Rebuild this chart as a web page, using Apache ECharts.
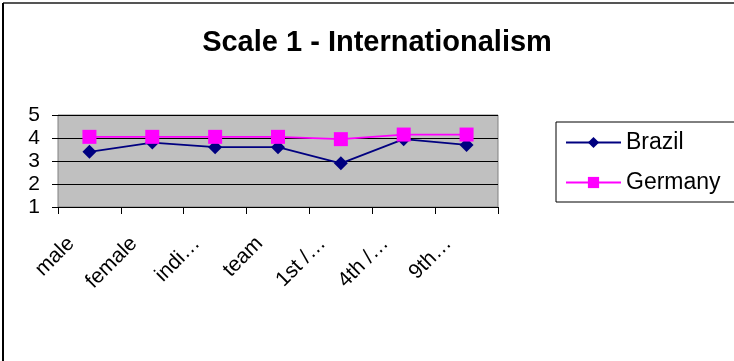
<!DOCTYPE html>
<html>
<head>
<meta charset="utf-8">
<script src="https://cdn.jsdelivr.net/npm/echarts@6/dist/echarts.min.js"></script>
<style>
  html, body { margin: 0; padding: 0; background: #fff; }
  #chart { width: 734px; height: 361px; }
</style>
</head>
<body>
<div id="chart"></div>
<script>
// Category labels along the x axis (shortened as in the original sheet)
const categories = ['male', 'female', 'indi…', 'team', '1st /…', '4th /…', '9th…'];
// Mean scale scores per group
const brazil = [3.4, 3.8, 3.6, 3.6, 2.9, 3.95, 3.7];
const germany = [4.05, 4.05, 4.05, 4.05, 3.95, 4.15, 4.15];
const yTicks = [1, 2, 3, 4, 5];

const FONT = '"Liberation Sans", Arial, sans-serif';
const chart = echarts.init(document.getElementById('chart'));

chart.setOption({
  animation: false,
  backgroundColor: '#ffffff',
  title: {
    text: 'Scale 1 - Internationalism',
    left: 372,
    textAlign: 'center',
    top: 23,
    textStyle: { fontFamily: FONT, fontSize: 29, fontWeight: 'bold', color: '#000' }
  },
  legend: {
    orient: 'vertical',
    left: 556,
    top: 122,
    width: 176,
    padding: [9, 30, 8, 9],
    itemWidth: 55,
    itemHeight: 14,
    itemGap: 17,
    borderColor: '#000',
    borderWidth: 1,
    textStyle: { fontFamily: FONT, fontSize: 23, color: '#000' },
    data: ['Brazil', 'Germany']
  },
  grid: {
    left: 58, right: 236, top: 115, bottom: 154,
    show: true,
    backgroundColor: '#c0c0c0',
    borderColor: '#808080',
    borderWidth: 1
  },
  xAxis: {
    type: 'category',
    data: categories,
    boundaryGap: true,
    axisLine: { lineStyle: { color: '#000', width: 1 } },
    axisTick: { show: true, length: 7, lineStyle: { color: '#000' } },
    axisLabel: {
      rotate: 45,
      interval: 0,
      margin: 15,
      padding: [0, 26, 0, 0],
      fontFamily: FONT,
      fontSize: 21,
      color: '#000'
    }
  },
  yAxis: {
    type: 'value',
    min: yTicks[0],
    max: yTicks[yTicks.length - 1],
    interval: 1,
    axisLine: { show: false },
    axisTick: { show: true, length: 6, lineStyle: { color: '#000' } },
    splitLine: { lineStyle: { color: '#000', width: 1 } },
    axisLabel: { fontFamily: FONT, fontSize: 21, color: '#000', margin: 18 }
  },
  graphic: [
    { type: 'line', shape: { x1: 3, y1: 3, x2: 734, y2: 3 }, style: { stroke: '#555', lineWidth: 2 } },
    { type: 'line', shape: { x1: 3, y1: 3, x2: 3, y2: 361 }, style: { stroke: '#000', lineWidth: 2 } }
  ],
  series: [
    {
      name: 'Brazil',
      type: 'line',
      data: brazil,
      symbol: 'diamond',
      symbolSize: 14,
      color: '#000080',
      lineStyle: { color: '#000080', width: 1.8 },
      itemStyle: { color: '#000080' },
      z: 3
    },
    {
      name: 'Germany',
      type: 'line',
      data: germany,
      symbol: 'rect',
      symbolSize: 14,
      color: '#ff00ff',
      lineStyle: { color: '#ff00ff', width: 1.8 },
      itemStyle: { color: '#ff00ff' },
      z: 4
    }
  ]
});
</script>
</body>
</html>
